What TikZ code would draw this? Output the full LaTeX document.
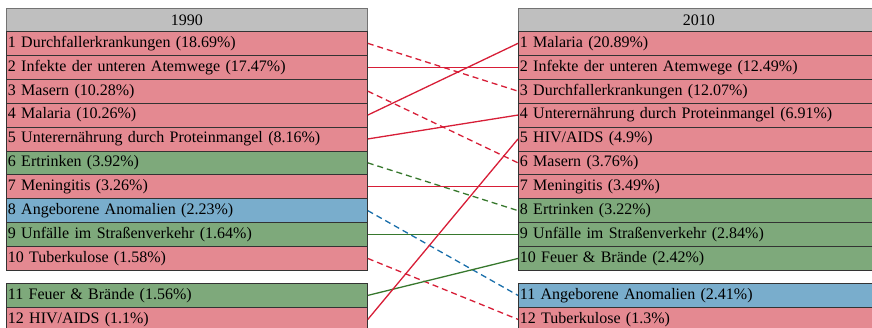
\documentclass[tikz,border=0pt]{standalone}
\usepackage{fontspec}
\setmainfont{Liberation Serif}
\definecolor{cpink}{RGB}{228,137,145}
\definecolor{cgreen}{RGB}{126,169,123}
\definecolor{cblue}{RGB}{121,173,204}
\definecolor{cgray}{RGB}{191,191,191}
\definecolor{lred}{RGB}{215,30,55}
\definecolor{lgreen}{RGB}{55,120,45}
\definecolor{lblue}{RGB}{25,110,170}
\tikzset{
  cell/.style={draw=black!80, line width=0.8pt, anchor=north west, minimum width=361pt,
    minimum height=#1, text width=358pt, inner sep=1.5pt, align=left,
    font=\fontsize{16}{18}\selectfont},
  head/.style={draw=black!55, line width=0.8pt, fill=cgray, anchor=north west, minimum width=361pt,
    minimum height=23pt, text width=358pt, inner sep=1.5pt, align=center,
    font=\fontsize{16}{18}\selectfont},
  pk/.style={fill=cpink}, gr/.style={fill=cgreen}, bl/.style={fill=cblue},
  conn/.style={line width=1.3pt},
  dconn/.style={line width=1.3pt, dash pattern=on 6pt off 4pt},
}
\begin{document}
\begin{tikzpicture}[x=1pt,y=-1pt]
\useasboundingbox (0,0) rectangle (872,327);
\clip (0,0) rectangle (872,327);
\def\rh{23.9}
% left column
\node[head] (LH) at (6,8) {1990};
\node[cell=\rh pt,pk] (L1) at (6,31) {1 Durchfallerkrankungen (18.69\%)};
\node[cell=\rh pt,pk] (L2) at (6,31+\rh) {2 Infekte der unteren Atemwege (17.47\%)};
\node[cell=\rh pt,pk] (L3) at (6,31+2*\rh) {3 Masern (10.28\%)};
\node[cell=\rh pt,pk] (L4) at (6,31+3*\rh) {4 Malaria (10.26\%)};
\node[cell=\rh pt,pk] (L5) at (6,31+4*\rh) {5 Unterernährung durch Proteinmangel (8.16\%)};
\node[cell=\rh pt,gr] (L6) at (6,31+5*\rh) {6 Ertrinken (3.92\%)};
\node[cell=\rh pt,pk] (L7) at (6,31+6*\rh) {7 Meningitis (3.26\%)};
\node[cell=\rh pt,bl] (L8) at (6,31+7*\rh) {8 Angeborene Anomalien (2.23\%)};
\node[cell=\rh pt,gr] (L9) at (6,31+8*\rh) {9 Unfälle im Straßenverkehr (1.64\%)};
\node[cell=\rh pt,pk] (L10) at (6,31+9*\rh) {10 Tuberkulose (1.58\%)};
\node[cell=24pt,gr] (L11) at (6,283) {11 Feuer \& Brände (1.56\%)};
\node[cell=24pt,pk] (L12) at (6,307) {12 HIV/AIDS (1.1\%)};
% right column
\node[head] (RH) at (518,8) {2010};
\node[cell=\rh pt,pk] (R1) at (518,31) {1 Malaria (20.89\%)};
\node[cell=\rh pt,pk] (R2) at (518,31+\rh) {2 Infekte der unteren Atemwege (12.49\%)};
\node[cell=\rh pt,pk] (R3) at (518,31+2*\rh) {3 Durchfallerkrankungen (12.07\%)};
\node[cell=\rh pt,pk] (R4) at (518,31+3*\rh) {4 Unterernährung durch Proteinmangel (6.91\%)};
\node[cell=\rh pt,pk] (R5) at (518,31+4*\rh) {5 HIV/AIDS (4.9\%)};
\node[cell=\rh pt,pk] (R6) at (518,31+5*\rh) {6 Masern (3.76\%)};
\node[cell=\rh pt,pk] (R7) at (518,31+6*\rh) {7 Meningitis (3.49\%)};
\node[cell=\rh pt,gr] (R8) at (518,31+7*\rh) {8 Ertrinken (3.22\%)};
\node[cell=\rh pt,gr] (R9) at (518,31+8*\rh) {9 Unfälle im Straßenverkehr (2.84\%)};
\node[cell=\rh pt,gr] (R10) at (518,31+9*\rh) {10 Feuer \& Brände (2.42\%)};
\node[cell=24pt,bl] (R11) at (518,283) {11 Angeborene Anomalien (2.41\%)};
\node[cell=24pt,pk] (R12) at (518,307) {12 Tuberkulose (1.3\%)};
% connectors
\draw[dconn,lred] (L1.east) -- (R3.west);
\draw[conn,lred] (L2.east) -- (R2.west);
\draw[dconn,lred] (L3.east) -- (R6.west);
\draw[conn,lred] (L4.east) -- (R1.west);
\draw[conn,lred] (L5.east) -- (R4.west);
\draw[dconn,lgreen] (L6.east) -- (R8.west);
\draw[conn,lred] (L7.east) -- (R7.west);
\draw[dconn,lblue] (L8.east) -- (R11.west);
\draw[conn,lgreen] (L9.east) -- (R9.west);
\draw[dconn,lred] (L10.east) -- (R12.west);
\draw[conn,lgreen] (L11.east) -- (R10.west);
\draw[conn,lred] (L12.east) -- (R5.west);
\end{tikzpicture}
\end{document}
